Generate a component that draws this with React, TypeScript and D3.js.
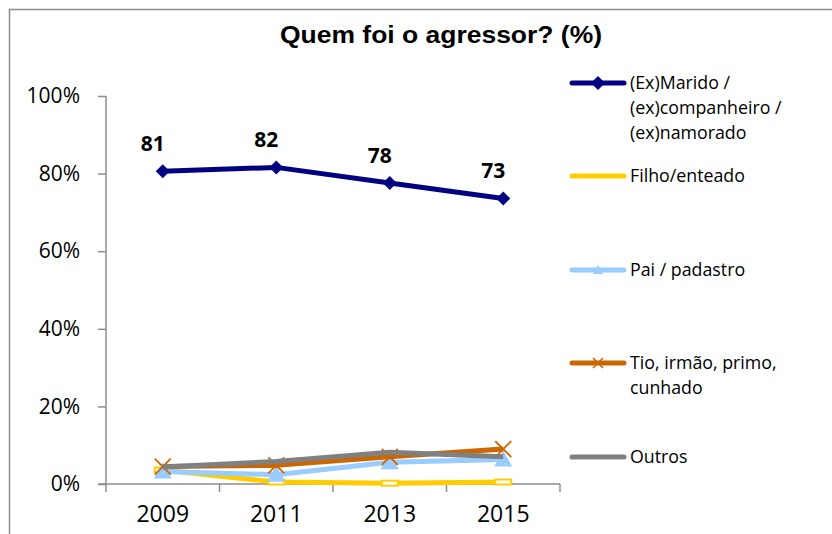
import React, { useRef, useEffect } from 'react'
import * as d3 from 'd3'

const years = ['2009', '2011', '2013', '2015']
const yTicks = [0, 20, 40, 60, 80, 100]
const marido = [80.6, 81.6, 77.6, 73.6]
const filho = [3.6, 0.5, 0.2, 0.5]
const pai = [3.2, 2.4, 5.6, 6.3]
const tio = [4.5, 4.8, 7.0, 9.0]
const outros = [4.4, 5.8, 8.2, 7.0]
const maridoLabels = ['81', '82', '78', '73']

const series = [
  { name: ['(Ex)Marido /', '(ex)companheiro /', '(ex)namorado'], values: marido, color: '#000080', marker: 'diamond', legendY: 83 },
  { name: ['Filho/enteado'], values: filho, color: '#FFCC00', marker: 'dash', legendY: 176 },
  { name: ['Pai / padastro'], values: pai, color: '#99CCFF', marker: 'triangle', legendY: 270 },
  { name: ['Tio, irmão, primo,', 'cunhado'], values: tio, color: '#CC6600', marker: 'x', legendY: 363 },
  { name: ['Outros'], values: outros, color: '#808080', marker: 'none', legendY: 457 },
]

const font = '"Open Sans", sans-serif'

export default function App() {
  const svgRef = useRef<SVGSVGElement>(null)

  useEffect(() => {
    if (!svgRef.current) return
    const svg = d3.select(svgRef.current)
    svg.selectAll('*').remove()

    const width = 832
    const height = 534
    const m = { l: 106, r: 272, t: 96, b: 50 }

    svg.append('rect').attr('width', width).attr('height', height).attr('fill', '#fff')
    // chart frame: only top and left edges fall inside the picture
    svg.append('path').attr('d', `M9.5,${height} V9.5 H${width}`)
      .attr('fill', 'none').attr('stroke', '#8c8c8c').attr('stroke-width', 1.5)

    const x = d3.scaleBand().domain(years).range([m.l, width - m.r]).padding(0)
    const y = d3.scaleLinear().domain([0, 100]).range([height - m.b, m.t])
    const cx = (i: number) => (x(years[i]) as number) + x.bandwidth() / 2

    svg.append('text').attr('x', 441).attr('y', 43).attr('text-anchor', 'middle')
      .attr('font-family', 'Arial, "Liberation Sans", sans-serif').attr('font-weight', 'bold')
      .attr('font-size', 23).attr('textLength', 322).attr('lengthAdjust', 'spacingAndGlyphs')
      .text('Quem foi o agressor? (%)')

    const yAxis = svg.append('g').attr('transform', `translate(${m.l},0)`)
      .call(d3.axisLeft(y).tickValues(yTicks).tickSize(8).tickPadding(18).tickFormat(d => `${d}%`))
    yAxis.selectAll('text').attr('font-size', 21).attr('font-family', font).attr('fill', '#000')
    yAxis.select('.domain').remove()
    yAxis.append('line').attr('y1', y(0)).attr('y2', y(100)).attr('stroke', '#8c8c8c').attr('stroke-width', 1.5)
    yAxis.selectAll('.tick line').attr('stroke', '#8c8c8c').attr('stroke-width', 1.5)

    const xAxis = svg.append('g').attr('transform', `translate(0,${y(0)})`)
      .call(d3.axisBottom(x).tickSize(0).tickPadding(22))
    xAxis.selectAll('text').attr('font-size', 23).attr('font-family', font).attr('fill', '#000')
    xAxis.select('.domain').remove()
    xAxis.append('line').attr('x1', m.l - 8).attr('x2', width - m.r).attr('stroke', '#8c8c8c').attr('stroke-width', 1.5)
    const bounds = years.map(yr => x(yr) as number).concat([width - m.r])
    xAxis.selectAll('.bound').data(bounds).enter().append('line')
      .attr('x1', d => d).attr('x2', d => d).attr('y1', 0).attr('y2', 8)
      .attr('stroke', '#8c8c8c').attr('stroke-width', 1.5)

    const line = d3.line<number>().x((_, i) => cx(i)).y(d => y(d))

    const drawMarker = (g: any, kind: string, color: string, px: number, py: number) => {
      if (kind === 'diamond') {
        g.append('path').attr('d', `M${px},${py - 7}L${px + 7},${py}L${px},${py + 7}L${px - 7},${py}Z`).attr('fill', color)
      } else if (kind === 'dash') {
        g.append('rect').attr('x', px - 8).attr('y', py - 2.5).attr('width', 16).attr('height', 5)
          .attr('fill', '#fff').attr('stroke', color).attr('stroke-width', 2)
      } else if (kind === 'triangle') {
        g.append('path').attr('d', `M${px},${py - 9}L${px + 9},${py + 7}L${px - 9},${py + 7}Z`).attr('fill', color)
      } else if (kind === 'x') {
        g.append('path').attr('d', `M${px - 8},${py - 8}L${px + 8},${py + 8}M${px + 8},${py - 8}L${px - 8},${py + 8}`)
          .attr('stroke', color).attr('stroke-width', 1.8)
      }
    }

    series.forEach(s => {
      const g = svg.append('g')
      g.append('path').datum(s.values).attr('d', line).attr('fill', 'none')
        .attr('stroke', s.color).attr('stroke-width', 5).attr('stroke-linejoin', 'round')
      s.values.forEach((v, i) => drawMarker(g, s.marker, s.color, cx(i), y(v)))
    })

    svg.selectAll('.dlabel').data(marido).enter().append('text')
      .attr('x', (_, i) => cx(i) - 10).attr('y', d => y(d) - 20)
      .attr('text-anchor', 'middle').attr('font-family', font).attr('font-weight', 'bold')
      .attr('font-size', 21).text((_, i) => maridoLabels[i])

    const lg = svg.append('g')
    series.forEach(s => {
      lg.append('line').attr('x1', 572).attr('x2', 624).attr('y1', s.legendY).attr('y2', s.legendY)
        .attr('stroke', s.color).attr('stroke-width', 5).attr('stroke-linecap', 'round')
      const mk = lg.append('g')
      if (s.marker === 'diamond') drawMarker(mk, 'diamond', s.color, 598, s.legendY)
      if (s.marker === 'triangle') {
        mk.append('path').attr('d', `M598,${s.legendY - 5}L603,${s.legendY + 4}L593,${s.legendY + 4}Z`).attr('fill', s.color)
      }
      if (s.marker === 'x') {
        mk.append('path').attr('d', `M593,${s.legendY - 5}L603,${s.legendY + 5}M603,${s.legendY - 5}L593,${s.legendY + 5}`)
          .attr('stroke', s.color).attr('stroke-width', 1.5)
      }
      s.name.forEach((t, j) => {
        lg.append('text').attr('x', 630).attr('y', s.legendY + j * 25).attr('dy', '0.36em')
          .attr('font-family', font).attr('font-size', 17.8).text(t)
      })
    })
  }, [])

  return <svg ref={svgRef} width={832} height={534} style={{ position: 'absolute', left: 0, top: 0 }} />
}
